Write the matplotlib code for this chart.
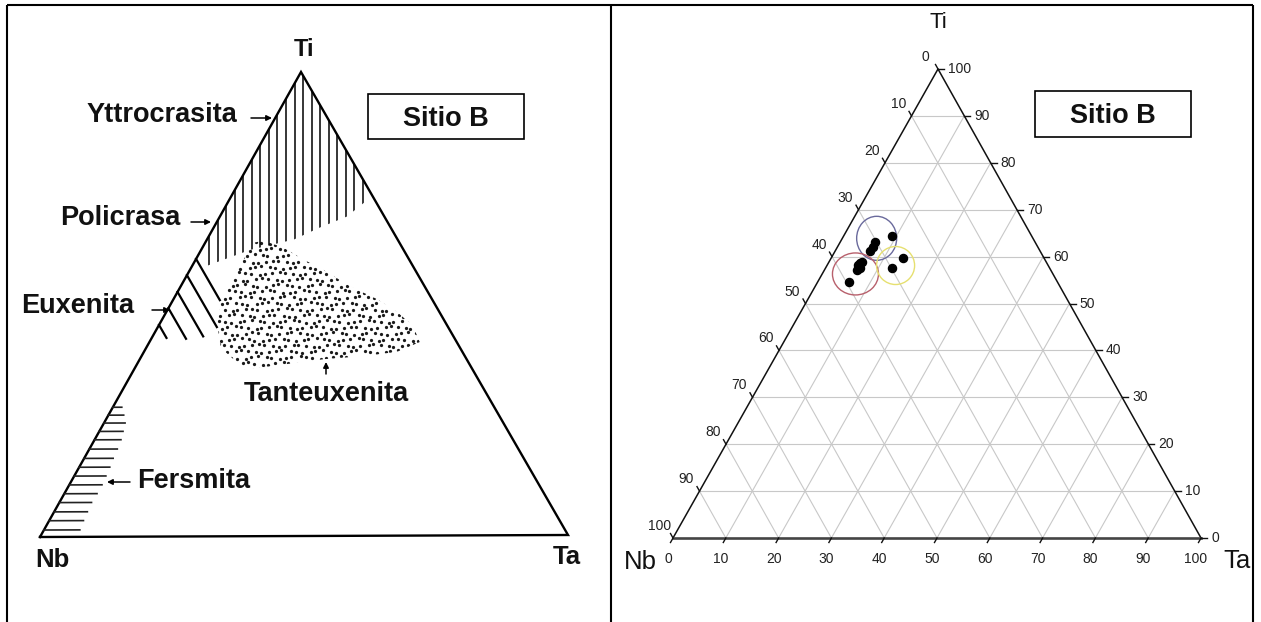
import numpy as np
import matplotlib.pyplot as plt
from matplotlib.patches import Polygon, Rectangle, Ellipse

plt.rcParams['font.family'] = ['Liberation Sans', 'DejaVu Sans']

# ---- left diagram (fields of the Ti-Nb-Ta minerals), fractions of Ti and Ta
yttro_ti = [1.0, 0.583, 0.583, 0.617, 0.639, 0.665, 0.688, 0.718, 0.745]
yttro_ta = [0.0, 0.0, 0.028, 0.093, 0.165, 0.202, 0.241, 0.259, 0.255]

tante_ti = [0.632, 0.637, 0.622, 0.596, 0.574, 0.538, 0.510, 0.482, 0.452, 0.417,
            0.396, 0.387, 0.381, 0.368, 0.359, 0.406, 0.458, 0.510, 0.559, 0.602]
tante_ta = [0.091, 0.108, 0.153, 0.204, 0.252, 0.321, 0.386, 0.438, 0.483, 0.513,
            0.480, 0.420, 0.350, 0.267, 0.211, 0.142, 0.109, 0.091, 0.089, 0.091]

# euxenita: hatch lines of constant Nb, length given in Ta
eux_nb = [0.402, 0.437, 0.473, 0.508, 0.544]
eux_ta = [0.089, 0.112, 0.096, 0.066, 0.028]

# fersmita: hatch lines of constant Ti, length given in Ta
fers_ti = [0.279, 0.262, 0.245, 0.227, 0.209, 0.189, 0.169, 0.150,
           0.131, 0.112, 0.093, 0.074, 0.054, 0.035, 0.015]
fers_ta = [0.017, 0.029, 0.040, 0.045, 0.050, 0.053, 0.055, 0.058,
           0.060, 0.062, 0.062, 0.061, 0.063, 0.065, 0.068]

# ---- right diagram: Sitio B analyses (Ti %, Ta %)
sample_ti = [64.4, 63.2, 62.1, 61.3, 59.6, 57.5, 58.9, 58.2, 58.6, 57.1, 54.6, 57.6]
sample_ta = [9.1, 6.6, 6.8, 6.6, 13.7, 12.6, 6.3, 5.9, 6.0, 6.1, 5.9, 6.5]

group_ti = [63.9, 56.3, 58.1]
group_ta = [6.5, 6.3, 13.0]
group_colors = ['#6a6a9c', '#b8606c', '#e6e070']
group_size = [(40, 44), (46, 42), (38, 38)]

tick_values = list(range(0, 101, 10))

left_c = {'Nb': (40, 537), 'Ta': (568, 535), 'Ti': (301, 72)}
right_c = {'Nb': (673, 538), 'Ta': (1201, 538), 'Ti': (938, 69)}


def to_xy(ti, ta, c):
    ti = np.asarray(ti, float)
    ta = np.asarray(ta, float)
    nb = 1 - ti - ta
    x = nb * c['Nb'][0] + ta * c['Ta'][0] + ti * c['Ti'][0]
    y = nb * c['Nb'][1] + ta * c['Ta'][1] + ti * c['Ti'][1]
    return x, y


fig = plt.figure(figsize=(12.61, 6.22), dpi=100)
ax = fig.add_axes([0, 0, 1, 1])
ax.set_xlim(0, 1261)
ax.set_ylim(622, 0)
ax.axis('off')

# table borders
for xs, ys in [([7, 7], [5, 622]), ([7, 1253], [5, 5]),
               ([611, 611], [5, 622]), ([1253, 1253], [5, 622])]:
    ax.plot(xs, ys, color='black', lw=1.5, solid_capstyle='butt')

# ================= left panel =================
tx, ty = to_xy([0, 0, 1, 0], [0, 1, 0, 0], left_c)
ax.plot(tx, ty, color='black', lw=1.7, solid_joinstyle='miter')

# vertical hatch (Yttrocrasita / Policrasa)
px, py = to_xy(yttro_ti, yttro_ta, left_c)
clip = Polygon(np.column_stack([px, py]), closed=True, fc='none', ec='none')
ax.add_patch(clip)
for xv in np.arange(209, 366, 8.55):
    ln, = ax.plot([xv, xv], [60, 290], color='black', lw=1.1)
    ln.set_clip_path(clip)

# Euxenita hatch
for nb, ln_ta in zip(eux_nb, eux_ta):
    ex, ey = to_xy([1 - nb, 1 - nb - ln_ta], [0, ln_ta], left_c)
    ax.plot(ex, ey, color='black', lw=1.6)

# Fersmita hatch
for ti, ta in zip(fers_ti, fers_ta):
    fx, fy = to_xy([ti, ti], [0, ta], left_c)
    ax.plot(fx, fy, color='#222222', lw=1.2)

# Tanteuxenita stipple (a slightly uneven dot screen)
sx, sy = to_xy(tante_ti, tante_ta, left_c)
stip = Polygon(np.column_stack([sx, sy]), closed=True, fc='none', ec='none')
ax.add_patch(stip)
gx, gy = [], []
for i, yy in enumerate(np.arange(sy.min() - 3, sy.max() + 3, 6.0)):
    off = 3.4 if i % 2 else 0
    for j, xx in enumerate(np.arange(sx.min() - 6 + off, sx.max() + 6, 6.8)):
        gx.append(xx + 1.4 * np.sin(1.7 * i + 2.3 * j))
        gy.append(yy + 1.2 * np.cos(2.9 * i + 1.1 * j))
dots = ax.scatter(gx, gy, s=5.5, color='#1a1a1a', lw=0)
dots.set_clip_path(stip)

bold = dict(fontweight='bold', color='#111111')
ax.text(304, 56, 'Ti', fontsize=17, ha='center', va='baseline', **bold)
ax.text(52, 567, 'Nb', fontsize=18.5, ha='center', va='baseline', **bold)
ax.text(567, 564, 'Ta', fontsize=18.5, ha='center', va='baseline', **bold)
ax.text(237, 122, 'Yttrocrasita', fontsize=19.5, ha='right', va='baseline', **bold)
ax.text(180, 225, 'Policrasa', fontsize=19.5, ha='right', va='baseline', **bold)
ax.text(134, 313, 'Euxenita', fontsize=19.5, ha='right', va='baseline', **bold)
ax.text(137, 488, 'Fersmita', fontsize=19.5, ha='left', va='baseline', **bold)
ax.text(326, 401, 'Tanteuxenita', fontsize=19.5, ha='center', va='baseline', **bold)

arrow = dict(arrowstyle='-|>', color='black', lw=1.1, mutation_scale=8,
             shrinkA=0, shrinkB=0)
for tail, tip in [((251, 118), (272, 118)), ((191, 222), (211, 222)),
                  ((152, 310), (170, 310)), ((130, 482), (107, 482)),
                  ((326, 374), (326, 362))]:
    ax.annotate('', xy=tip, xytext=tail, arrowprops=arrow)

ax.add_patch(Rectangle((368, 94), 156, 45, fc='none', ec='black', lw=1.2))
ax.text(446, 126, 'Sitio B', fontsize=19.5, ha='center', va='baseline', **bold)

# ================= right panel =================
for k in range(1, 10):
    v = k / 10
    for ti_pair, ta_pair in [([v, v], [0, 1 - v]),
                             ([0, 1 - v], [v, v]),
                             ([1 - v, 0], [0, 1 - v])]:
        gx2, gy2 = to_xy(ti_pair, ta_pair, right_c)
        ax.plot(gx2, gy2, color='#c8c8c8', lw=0.8, zorder=1)

ex, ey = to_xy([0, 1, 0], [0, 0, 1], right_c)
ax.plot(ex, ey, color='#111111', lw=1.1, zorder=2)
bx, by = to_xy([0, 0], [0, 1], right_c)
ax.plot(bx, by, color='#444444', lw=1.9, zorder=2)

tick_font = dict(fontsize=10, color='#222222')
for v in tick_values:
    f = v / 100
    # Nb axis (left edge)
    x0, y0 = to_xy(1 - f, 0, right_c)
    ax.plot([x0, x0 - 2.5], [y0, y0 - 4.5], color='#111111', lw=1, zorder=2)
    ax.text(x0 - 13, y0 - 12, str(v), ha='center', va='center', **tick_font)
    # Ti axis (right edge)
    x1, y1 = to_xy(f, 1 - f, right_c)
    ax.plot([x1, x1 + 6], [y1, y1], color='#111111', lw=1, zorder=2)
    ax.text(x1 + 10, y1, str(v), ha='left', va='center', **tick_font)
    # Ta axis (bottom edge)
    x2, y2 = to_xy(0, f, right_c)
    ax.plot([x2, x2 - 2.5], [y2, y2 + 4.5], color='#111111', lw=1, zorder=2)
    ax.text(x2 - 5, y2 + 21, str(v), ha='center', va='center', **tick_font)

ax.text(938, 23, 'Ti', fontsize=16, ha='center', va='center', color='#111111')
ax.text(640, 562, 'Nb', fontsize=18.5, ha='center', va='center', color='#111111')
ax.text(1237, 561, 'Ta', fontsize=18.5, ha='center', va='center', color='#111111')

qx, qy = to_xy(np.array(sample_ti) / 100, np.array(sample_ta) / 100, right_c)
ax.scatter(qx, qy, s=34, color='black', zorder=4)

cx, cy = to_xy(np.array(group_ti) / 100, np.array(group_ta) / 100, right_c)
for xc, yc, col, (w, h) in zip(cx, cy, group_colors, group_size):
    ax.add_patch(Ellipse((xc, yc), w, h, fc='none', ec=col, lw=1.0, zorder=3))

ax.add_patch(Rectangle((1035, 91), 156, 46, fc='none', ec='black', lw=1.2))
ax.text(1113, 123, 'Sitio B', fontsize=19.5, ha='center', va='baseline', **bold)

fig.savefig('out.png', dpi=100, facecolor='white')
